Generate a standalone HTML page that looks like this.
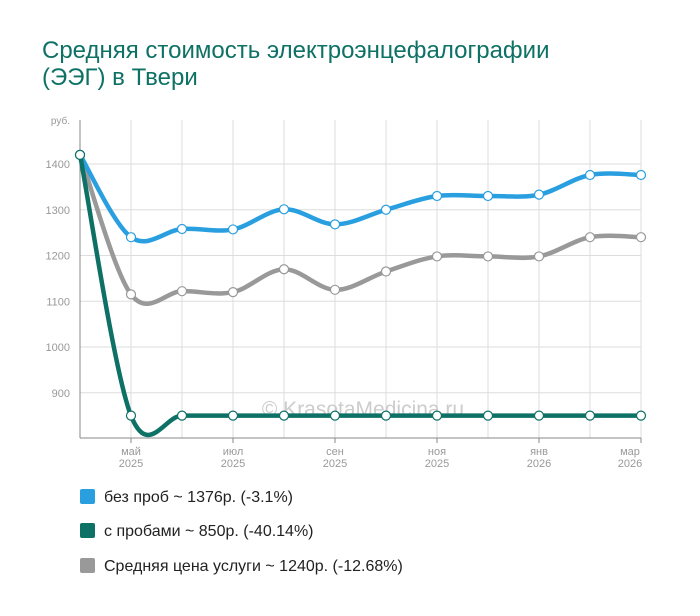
<!DOCTYPE html>
<html><head><meta charset="utf-8"><style>
body{margin:0;background:#fff;width:700px;height:616px;overflow:hidden;font-family:"Liberation Sans",sans-serif}
.t{position:absolute;left:42px;top:37px;font-size:24px;line-height:27px;color:#0e7165}
.lg{position:absolute;left:80px;font-size:16px;color:#222}
.lg span{display:inline-block;width:15px;height:15px;border-radius:2px;vertical-align:-2px;margin-right:9px}
</style></head><body>
<div class="t">Средняя стоимость электроэнцефалографии<br>(ЭЭГ) в Твери</div>
<svg width="700" height="616" style="position:absolute;left:0;top:0">
<g id="grid" stroke="#ddd" stroke-width="1"></g>
<g font-size="11" fill="#999" text-anchor="end" id="yl"></g>
<text x="70" y="124" font-size="10" fill="#999" text-anchor="end">руб.</text>
<line x1="80" y1="120" x2="80" y2="438" stroke="#888"/>
<line x1="80" y1="438" x2="641" y2="438" stroke="#888"/>
<text x="363" y="416" font-size="21" fill="#ccc" text-anchor="middle">© KrasotaMedicina.ru</text>
<g id="lines" fill="none"></g>
<g font-size="11" fill="#999" text-anchor="middle" id="xl"></g>
</svg>
<div class="lg" style="top:489px"><span style="background:#2a9fe0"></span>без проб ~ 1376р. (-3.1%)</div>
<div class="lg" style="top:523px"><span style="background:#0e7165"></span>с пробами ~ 850р. (-40.14%)</div>
<div class="lg" style="top:558px"><span style="background:#999"></span>Средняя цена услуги ~ 1240р. (-12.68%)</div>
<script>
var NS="http://www.w3.org/2000/svg";
function el(p,t,a,txt){var e=document.createElementNS(NS,t);for(var k in a)e.setAttribute(k,a[k]);if(txt)e.textContent=txt;document.getElementById(p).appendChild(e);return e;}
function Y(v){return 164+(1400-v)*0.4575;}
var X=[];for(var i=0;i<12;i++)X.push(80+51*i);
for(var v=900;v<=1400;v+=100){el("grid","line",{x1:80,x2:641,y1:Y(v),y2:Y(v)});el("yl","text",{x:70,y:Y(v)+4},v);}
for(var i=1;i<12;i++)el("grid","line",{x1:X[i],x2:X[i],y1:120,y2:438});
var xl=[[1,"май"],[3,"июл"],[5,"сен"],[7,"ноя"],[9,"янв"],[11,"мар"]];
xl.forEach(function(a){var yr=a[0]>=9?"2026":"2025";var x=a[0]==11?630:X[a[0]];el("xl","text",{x:x,y:455},a[1]);el("xl","text",{x:x,y:467},yr);el("grid","line",{x1:X[a[0]],x2:X[a[0]],y1:438,y2:443,stroke:"#888"});});
var S=[
[[1420,1115,1122,1120,1170,1125,1165,1198,1198,1198,1240,1240],"#999"],
[[1420,1240,1258,1257,1301,1268,1300,1330,1330,1333,1376,1376],"#2a9fe0"],
[[1420,850,850,850,850,850,850,850,850,850,850,850],"#0e7165"]];
S.forEach(function(s){var P=s[0].map(function(v,i){return [X[i],Y(v)];});var d="M"+P[0][0]+","+P[0][1];
for(var i=0;i<11;i++){var a=P[Math.max(i-1,0)],b=P[i],c=P[i+1],e=P[Math.min(i+2,11)];
d+=" C"+(b[0]+(c[0]-a[0])/6)+","+(b[1]+(c[1]-a[1])/6)+" "+(c[0]-(e[0]-b[0])/6)+","+(c[1]-(e[1]-b[1])/6)+" "+c[0]+","+c[1];}
el("lines","path",{d:d,stroke:s[1],"stroke-width":4.5});
P.forEach(function(p){el("lines","circle",{cx:p[0],cy:p[1],r:4.5,fill:"#fff",stroke:s[1],"stroke-width":1.2});});});
</script>
</body></html>
